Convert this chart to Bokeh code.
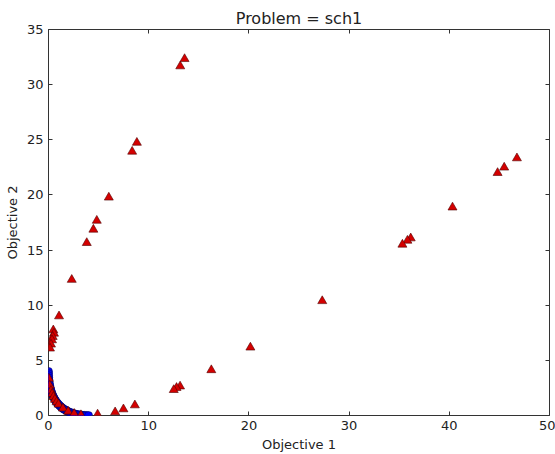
from bokeh.plotting import figure
from bokeh.models import Range1d, LinearAxis, FixedTicker, CustomJSTickFormatter
from bokeh.embed import file_html
from bokeh.resources import INLINE

# Pareto front (blue)
front_x = [0.0, 0.0025, 0.01, 0.0225, 0.04, 0.0625, 0.09, 0.1225, 0.16, 0.2025, 0.25,
           0.3025, 0.36, 0.4225, 0.49, 0.5625, 0.64, 0.7225, 0.81, 0.9025, 1.0,
           1.1025, 1.21, 1.3225, 1.44, 1.5625, 1.69, 1.8225, 1.96, 2.1025, 2.25,
           2.4025, 2.56, 2.7225, 2.89, 3.0625, 3.24, 3.4225, 3.61, 3.8025, 4.0]
front_y = [4.0, 3.8025, 3.61, 3.4225, 3.24, 3.0625, 2.89, 2.7225, 2.56, 2.4025, 2.25,
           2.1025, 1.96, 1.8225, 1.69, 1.5625, 1.44, 1.3225, 1.21, 1.1025, 1.0,
           0.9025, 0.81, 0.7225, 0.64, 0.5625, 0.49, 0.4225, 0.36, 0.3025, 0.25,
           0.2025, 0.16, 0.1225, 0.09, 0.0625, 0.04, 0.0225, 0.01, 0.0025, 0.0]

# Population (red triangles)
pop_x = [13.58, 13.15, 8.82, 8.35, 6.02, 4.82, 4.48, 3.82, 2.32, 1.05,
         0.48, 0.55, 0.42, 0.35, 0.25, 0.15,
         46.75, 45.48, 44.82, 40.32, 36.15, 35.82, 35.32, 27.32, 20.15, 16.25,
         13.13, 12.78, 12.5, 8.62, 7.48, 6.65, 4.9,
         0.03, 0.12, 0.25, 0.36, 0.49, 0.64, 0.81, 1.0, 1.44, 1.96, 2.56, 3.24]
pop_y = [32.33, 31.67, 24.74, 23.93, 19.77, 17.67, 16.86, 15.65, 12.31, 9.0,
         7.73, 7.43, 7.13, 6.83, 6.44, 6.08,
         23.33, 22.49, 22.0, 18.87, 16.07, 15.86, 15.5, 10.38, 6.17, 4.12,
         2.64, 2.51, 2.32, 0.93, 0.57, 0.3, 0.1,
         3.35, 2.72, 2.25, 1.96, 1.69, 1.44, 1.21, 1.0, 0.64, 0.36, 0.16, 0.04]

x_ticks = [0, 10, 20, 30, 40, 50]
y_ticks = [0, 5, 10, 15, 20, 25, 30, 35]

FONT = "DejaVu Sans"
TXT = "#222222"

p = figure(width=555, height=454, output_backend="svg", toolbar_location=None,
           x_range=Range1d(0, 50), y_range=Range1d(0, 35),
           min_border_left=48, min_border_right=6, min_border_top=29, min_border_bottom=38,
           title="Problem = sch1")
p.title.align = "center"
p.title.text_font = FONT
p.title.text_font_size = "16px"
p.title.text_font_style = "normal"
p.title.text_color = TXT
p.title.standoff = 4
p.title.offset = 6

p.xgrid.visible = False
p.ygrid.visible = False
p.outline_line_color = "#333333"
p.outline_line_width = 1
p.background_fill_color = "white"
p.border_fill_color = "white"

for ax in (p.xaxis[0], p.yaxis[0]):
    ax.major_tick_in = 4
    ax.major_tick_out = 0
    ax.minor_tick_in = 0
    ax.minor_tick_out = 0
    ax.axis_line_color = None
    ax.major_tick_line_color = "#333333"
    ax.major_label_text_font = FONT
    ax.major_label_text_font_size = "13px"
    ax.major_label_text_color = TXT
    ax.major_label_standoff = 5
    ax.axis_label_text_font = FONT
    ax.axis_label_text_font_size = "13px"
    ax.axis_label_text_font_style = "normal"
    ax.axis_label_text_color = TXT
    ax.axis_label_standoff = 4

p.xaxis[0].ticker = FixedTicker(ticks=x_ticks)
p.yaxis[0].ticker = FixedTicker(ticks=y_ticks)
p.xaxis[0].axis_label = "Objective 1"
p.yaxis[0].axis_label = "Objective 2"

blank = CustomJSTickFormatter(code="return '';")
top = LinearAxis(ticker=FixedTicker(ticks=x_ticks), formatter=blank,
                 major_tick_in=4, major_tick_out=0, minor_tick_in=0, minor_tick_out=0,
                 axis_line_color=None, major_tick_line_color="#333333", major_label_standoff=0)
right = LinearAxis(ticker=FixedTicker(ticks=y_ticks), formatter=blank,
                   major_tick_in=4, major_tick_out=0, minor_tick_in=0, minor_tick_out=0,
                   axis_line_color=None, major_tick_line_color="#333333", major_label_standoff=0)
p.add_layout(top, "above")
p.add_layout(right, "right")

p.scatter(front_x, front_y, marker="circle", size=8, fill_color="#0000ff",
          line_color="#000040", line_width=0.5)
p.scatter(pop_x, pop_y, marker="triangle", size=9, fill_color="#d40000",
          line_color="#500000", line_width=0.6)

open("out.html", "w").write(file_html(p, INLINE))
